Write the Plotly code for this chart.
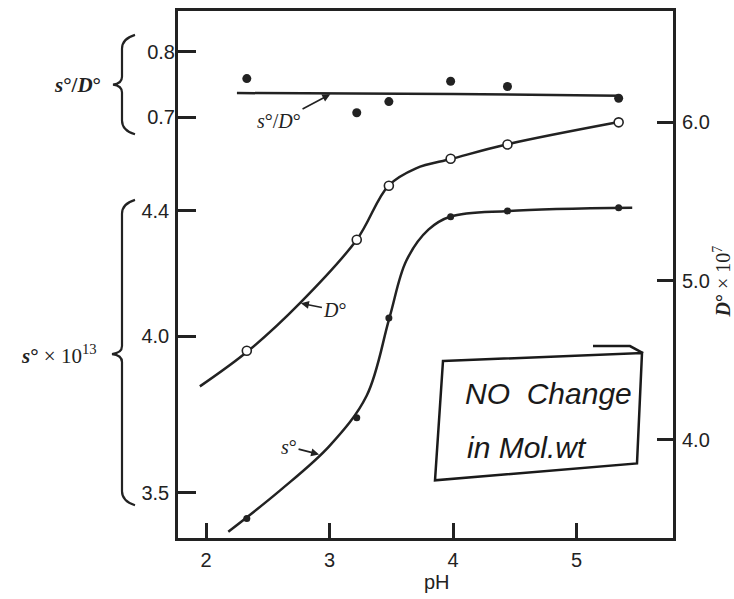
import plotly.graph_objects as go

# ---------------- data ----------------
ph_points = [2.33, 3.22, 3.48, 3.98, 4.44, 5.34]
s_over_D = [0.759, 0.707, 0.724, 0.755, 0.747, 0.729]
D_vals = [4.56, 5.26, 5.60, 5.77, 5.86, 6.00]
s_vals = [3.418, 3.74, 4.058, 4.381, 4.40, 4.41]

# drawn (smoothed) curves
ratio_curve_ph = [2.25, 4.0, 5.35]
ratio_curve = [0.737, 0.7355, 0.733]
D_curve_ph = [1.95, 2.34, 2.76, 3.22, 3.476, 3.70, 3.99, 4.43, 5.33]
D_curve = [4.335, 4.558, 4.86, 5.26, 5.60, 5.71, 5.77, 5.86, 6.00]
s_curve_ph = [2.18, 2.60, 3.00, 3.30, 3.484, 3.62, 3.80, 3.98, 4.45, 5.45]
s_curve = [3.376, 3.508, 3.65, 3.81, 4.058, 4.24, 4.34, 4.382, 4.40, 4.41]

x_ticks = [2, 3, 4, 5]
s_ticks = [3.5, 4.0, 4.4]
s_ticktext = ["3.5", "4.0", "4.4"]
ratio_ticks = [0.7, 0.8]
ratio_ticktext = ["0.7", "0.8"]
D_ticks = [4.0, 5.0, 6.0]
D_ticktext = ["4.0", "5.0", "6.0"]

# ---------------- layout geometry ----------------
W, H = 734, 599
L, R, T, B = 178, 673, 8, 538


def P(px, py):
    return (px - L) / (R - L), (B - py) / (B - T)


INK = "#222222"
SANS = "Liberation Sans, Arial, sans-serif"
SERIF = "Liberation Serif, Times New Roman, serif"

fig = go.Figure()

# s°/D° line and points
fig.add_trace(go.Scatter(x=ratio_curve_ph, y=ratio_curve, yaxis="y3", mode="lines",
                         line=dict(color=INK, width=2.5), hoverinfo="skip"))
fig.add_trace(go.Scatter(x=ph_points, y=s_over_D, yaxis="y3", mode="markers",
                         marker=dict(color=INK, size=9)))
# D° curve and points
fig.add_trace(go.Scatter(x=D_curve_ph, y=D_curve, yaxis="y2", mode="lines",
                         line=dict(color=INK, width=2.5, shape="spline", smoothing=1.0),
                         hoverinfo="skip"))
fig.add_trace(go.Scatter(x=ph_points, y=D_vals, yaxis="y2", mode="markers",
                         marker=dict(color="white", size=9, line=dict(color=INK, width=1.6))))
# s° curve and points
fig.add_trace(go.Scatter(x=s_curve_ph, y=s_curve, yaxis="y", mode="lines",
                         line=dict(color=INK, width=2.5, shape="spline", smoothing=1.0),
                         hoverinfo="skip"))
fig.add_trace(go.Scatter(x=ph_points, y=s_vals, yaxis="y", mode="markers",
                         marker=dict(color=INK, size=7)))

axis_common = dict(showgrid=False, zeroline=False, ticks="inside", tickwidth=2.5,
                   tickcolor=INK, tickfont=dict(family=SANS, size=20, color=INK))

fig.update_layout(
    width=W, height=H,
    margin=dict(l=L, r=W - R, t=T, b=H - B, pad=0),
    plot_bgcolor="white", paper_bgcolor="white",
    showlegend=False,
    xaxis=dict(range=[1.773, 5.78], tickvals=x_ticks, ticklen=15, ticklabelstandoff=2,
               showline=True, linewidth=2.5, linecolor=INK, mirror=True, **axis_common),
    yaxis=dict(range=[3.356, 5.038], tickvals=s_ticks, ticktext=s_ticktext, ticklen=18,
               showline=True, linewidth=2.5, linecolor=INK, mirror=True, side="left",
               ticklabelstandoff=2, **axis_common),
    yaxis3=dict(range=[0.059, 0.862], tickvals=ratio_ticks, ticktext=ratio_ticktext,
                ticklen=18, overlaying="y", side="left", anchor="x", showline=False,
                ticklabelstandoff=2, **axis_common),
    yaxis2=dict(range=[3.379, 6.702], tickvals=D_ticks, ticktext=D_ticktext, ticklen=16,
                overlaying="y", side="right", anchor="x", showline=False,
                ticklabelstandoff=8, **axis_common),
)

ann = []


def text_at(px, py, text, size, family=SERIF, angle=0, color=INK):
    x, y = P(px, py)
    ann.append(dict(x=x, y=y, xref="paper", yref="paper", text=text, showarrow=False,
                    font=dict(family=family, size=size, color=color), textangle=angle,
                    xanchor="center", yanchor="middle"))


text_at(77, 82, "<b><i>s</i>°/<i>D</i>°</b>", 21)
text_at(59, 353, "<b><i>s</i>°</b> × 10<sup>13</sup>", 21)
text_at(722, 280, "<b><i>D</i>°</b> × 10<sup>7</sup>", 20, angle=-90)
text_at(437, 582, "pH", 20, family=SANS)

# in-plot labels with arrows
ann.append(dict(x=3.02, y=0.7365, xref="x", yref="y3", ax=-53, ay=28,
                text="<i>s</i>°/<i>D</i>°", showarrow=True, arrowhead=2, arrowsize=1,
                arrowwidth=1.6, arrowcolor=INK, standoff=2,
                font=dict(family=SERIF, size=20, color=INK)))
ann.append(dict(x=2.76, y=4.86, xref="x", yref="y2", ax=35, ay=7,
                text="<i>D</i>°", showarrow=True, arrowhead=2, arrowsize=1,
                arrowwidth=1.6, arrowcolor=INK, standoff=1,
                font=dict(family=SERIF, size=20, color=INK)))
ann.append(dict(x=2.923, y=3.622, xref="x", yref="y", ax=-31, ay=-8,
                text="<i>s</i>°", showarrow=True, arrowhead=2, arrowsize=1,
                arrowwidth=1.6, arrowcolor=INK, standoff=1,
                font=dict(family=SERIF, size=20, color=INK)))

# handwritten note
text_at(548, 393, "<i>NO  Change</i>", 30, family=SANS, color="#1a1a1a")
text_at(527, 447, "<i>in Mol.wt</i>", 30, family=SANS, color="#1a1a1a")
fig.update_layout(annotations=ann)


def path(points, closed=False):
    pts = [P(*p) for p in points]
    s = "M {:.5f},{:.5f}".format(*pts[0])
    for p in pts[1:]:
        s += " L {:.5f},{:.5f}".format(*p)
    if closed:
        s += " Z"
    return s


def brace(x_out, x_in, x_tip, y_top, y_mid, y_bot):
    a = P(x_out, y_top); b = P(x_in, y_top + 4); c = P(x_in, y_top + 14)
    d = P(x_in, y_mid - 8); e = P(x_in, y_mid - 1); f = P(x_tip, y_mid)
    g = P(x_in, y_mid + 1); h = P(x_in, y_mid + 8)
    i = P(x_in, y_bot - 14); j = P(x_in, y_bot - 4); k = P(x_out, y_bot)
    fmt = lambda p: "{:.5f},{:.5f}".format(*p)
    return (f"M {fmt(a)} Q {fmt(b)} {fmt(c)} L {fmt(d)} Q {fmt(e)} {fmt(f)} "
            f"Q {fmt(g)} {fmt(h)} L {fmt(i)} Q {fmt(j)} {fmt(k)}")


shapes = [
    dict(type="path", xref="paper", yref="paper", path=brace(135, 122, 113, 32, 82, 132),
         line=dict(color=INK, width=2.2)),
    dict(type="path", xref="paper", yref="paper", path=brace(135, 122, 112, 198, 353, 505),
         line=dict(color=INK, width=2.2)),
    dict(type="path", xref="paper", yref="paper",
         path=path([(443, 360), (642, 352), (637, 463), (435, 480)], closed=True),
         line=dict(color="#1a1a1a", width=2.5)),
    dict(type="path", xref="paper", yref="paper",
         path=path([(593, 345), (630, 345), (643, 352)]),
         line=dict(color="#1a1a1a", width=2.5)),
]
fig.update_layout(shapes=shapes)

fig.write_html("out.html")
